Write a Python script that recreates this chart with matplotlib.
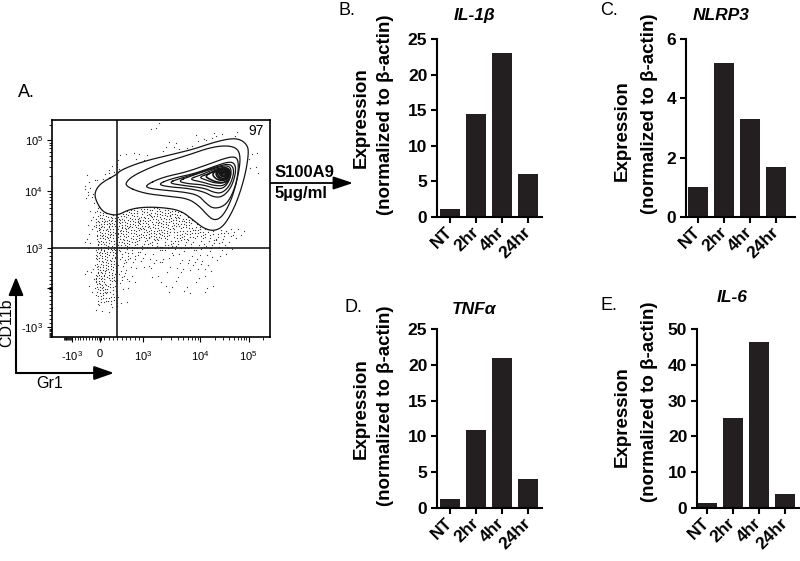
import numpy as np
import matplotlib.pyplot as plt
from matplotlib.patches import FancyArrowPatch
from matplotlib.path import Path

plt.rcParams["font.family"] = ["Liberation Sans", "DejaVu Sans"]
plt.rcParams["mathtext.fontset"] = "custom"
plt.rcParams["mathtext.rm"] = "Liberation Sans"
plt.rcParams["mathtext.it"] = "Liberation Sans:italic"
plt.rcParams["mathtext.bf"] = "Liberation Sans:bold"

# qPCR, expression normalized to beta-actin
timepoints = ["NT", "2hr", "4hr", "24hr"]
il1b = [1.1, 14.4, 23.1, 6.0]
nlrp3 = [1.0, 5.2, 3.3, 1.7]
tnfa = [1.2, 10.9, 20.9, 4.0]
il6 = [1.5, 25.2, 46.4, 4.0]

# flow panel, biexponential axes in display channels (0-1000)
gr1_tick_pos = [92, 221, 419, 681, 902]
gr1_tick_labels = ["-$10^3$", "0", "$10^3$", "$10^4$", "$10^5$"]
cd11b_tick_pos = [46, 225, 409, 672, 906]
cd11b_tick_labels = ["-$10^3$", "", "$10^3$", "$10^4$", "$10^5$"]
gr1_gate = 299
cd11b_gate = 409
gate_percent = "97"

# contour levels, outer -> inner, (Gr1, CD11b) channels
ring1 = [(299, 750), (221, 708), (193, 662), (207, 616), (235, 575), (281, 561), (313, 566),
         (345, 584), (405, 598), (497, 598), (589, 584), (649, 538), (695, 501), (741, 488),
         (782, 506), (819, 561), (856, 644), (888, 754), (902, 846), (897, 883), (865, 911),
         (819, 915), (741, 897), (649, 865), (529, 837), (405, 805), (313, 768)]
ring2 = [(336, 695), (419, 662), (529, 649), (621, 639), (672, 607), (713, 561), (741, 538),
         (773, 547), (805, 593), (833, 662), (856, 754), (865, 828), (851, 869), (805, 883),
         (727, 874), (621, 837), (497, 800), (391, 754), (345, 722)]
ring3 = [(428, 699), (506, 736), (612, 759), (704, 791), (796, 825), (840, 832), (856, 810),
         (852, 736), (830, 662), (795, 605), (741, 590), (704, 618), (672, 653), (612, 667),
         (520, 676), (442, 685)]
ring4 = [(483, 704), (552, 731), (658, 754), (750, 788), (810, 808), (840, 800), (843, 754),
         (822, 688), (782, 645), (740, 645), (700, 668), (626, 685), (534, 692)]
ring5 = [(529, 710), (589, 731), (681, 759), (764, 788), (812, 798), (832, 782), (833, 745),
         (812, 692), (777, 662), (740, 667), (700, 686), (612, 697)]
ring6 = [(575, 718), (635, 741), (713, 768), (782, 788), (815, 788), (824, 760), (810, 712),
         (782, 682), (740, 687), (690, 702), (626, 706)]
ring7 = [(626, 727), (681, 746), (741, 772), (795, 784), (817, 772), (816, 730), (790, 696),
         (742, 698), (690, 714)]
ring8 = [(672, 736), (727, 756), (782, 778), (808, 770), (810, 735), (788, 708), (745, 710),
         (705, 724)]
core0 = [(700, 742), (745, 766), (790, 780), (816, 770), (820, 738), (800, 712), (760, 712),
         (725, 726)]
core1 = [(735, 752), (760, 772), (790, 778), (812, 765), (815, 740), (795, 722), (765, 722),
         (745, 735)]
core2 = [(748, 752), (766, 770), (791, 775), (809, 763), (811, 741), (794, 726), (768, 727)]
core3 = [(756, 752), (772, 768), (792, 772), (806, 760), (808, 742), (792, 730), (772, 733)]
core4 = [(765, 752), (780, 764), (797, 767), (804, 750), (796, 737), (777, 740)]
core5 = [(772, 752), (785, 762), (798, 759), (801, 747), (790, 740), (779, 743)]
core6 = [(778, 752), (788, 758), (796, 753), (793, 746), (784, 746)]
contour_rings = [ring1, ring2, ring3, ring4, ring5, ring6, ring7, ring8,
                 core0, core1, core2, core3, core4, core5, core6]

# outlier events outside the outer contour: density level per 50x50 channel cell
# rows: CD11b high -> low, columns: Gr1 low -> high
event_density = [
    "00000000010000000000",
    "00000000000001111000",
    "00000000001110000100",
    "00000011100000000010",
    "00000210000000000010",
    "00011000000000000000",
    "00021000000000000000",
    "00011000000000000000",
    "00015455555530000000",
    "00016666665554100000",
    "00016665555444332100",
    "00016554333332221000",
    "00006532111111110000",
    "00016521111111100000",
    "00017521010101000000",
    "00016410001010100000",
    "00004310000000000000",
    "00001100000000000000",
    "00000000000000000000",
    "00000000000000000000",
]

W, H = 800, 561
fig = plt.figure(figsize=(W / 100, H / 100), dpi=100)


def rect(left, top, right, bottom):
    return [left / W, 1 - bottom / H, (right - left) / W, (bottom - top) / H]


def smooth_closed(pts, n=3):
    p = np.asarray(pts, float)
    for _ in range(n):
        q = np.roll(p, -1, axis=0)
        p = np.stack([0.75 * p + 0.25 * q, 0.25 * p + 0.75 * q], axis=1).reshape(-1, 2)
    return np.vstack([p, p[:1]])


def biex(values, anchors_t, anchors_pos):
    v = np.asarray(values, float)
    t = np.where(np.abs(v) < 1000, v / 1000 * 3, np.sign(v) * np.log10(np.abs(v) + 1e-9))
    return np.interp(t, anchors_t, anchors_pos)


# overlay in pixel units for labels and arrows
ov = fig.add_axes([0, 0, 1, 1])
ov.set_xlim(0, W)
ov.set_ylim(H, 0)
ov.axis("off")

# ---------------- panel A: flow plot ----------------
ax = fig.add_axes(rect(52, 120, 270, 337))
ax.set_xlim(0, 1000)
ax.set_ylim(0, 1000)

outer = smooth_closed(ring1)
xs, ys = [], []
nrows = len(event_density)
for i, row in enumerate(event_density):
    r = nrows - 1 - i
    for c, lvl in enumerate(row):
        n = int(lvl) * 3
        k = np.arange(n) + 1 + (c * 37 + r * 101) % 97
        xs.extend((c + (k * 0.7548776662 + 0.13 * r) % 1) * 50)
        ys.extend((r + (k * 0.5698402910 + 0.29 * c) % 1) * 50)
pts = np.column_stack([xs, ys])
keep = ~Path(outer).contains_points(pts)
ax.scatter(pts[keep, 0], pts[keep, 1], s=0.8, color="#333333", lw=0, marker="o")

for j, ring in enumerate(contour_rings):
    p = smooth_closed(ring)
    ax.plot(p[:, 0], p[:, 1], color="#151515", lw=0.9 if j < 8 else 1.2)

ax.axvline(gr1_gate, color="#1a1a1a", lw=1.2)
ax.axhline(cd11b_gate, color="#1a1a1a", lw=1.2)
ax.text(934, 948, gate_percent, fontsize=10, ha="center", va="center")

xt_anchor = [-4, -3, 0, 3, 4, 5, 6]
ax.set_xticks(gr1_tick_pos)
ax.set_xticklabels(gr1_tick_labels)
ax.set_yticks(cd11b_tick_pos)
ax.set_yticklabels(cd11b_tick_labels)
minor_vals = [v for v in range(-2000, 1000, 100) if v % 1000] + \
             [k * 10 ** d for d in (3, 4, 5) for k in range(2, 10)] + [-30, -15, 15, 30]
xm = biex(minor_vals, xt_anchor, [-37, 92, 221, 419, 681, 902, 1123])
ym = biex(minor_vals, xt_anchor, [-133, 46, 225, 409, 672, 906, 1140])
ax.set_xticks(xm[(xm > 0) & (xm < 1000)], minor=True)
ax.set_yticks(ym[(ym > 0) & (ym < 1000)], minor=True)
ax.tick_params(which="major", length=3.5, width=0.8, labelsize=8, pad=3)
ax.tick_params(axis="x", which="major", pad=5)
ax.tick_params(which="minor", length=2, width=0.6)
for s in ax.spines.values():
    s.set_linewidth(1.2)

ov.text(26, 92, "A.", fontsize=13, ha="center", va="center")
ov.text(7, 323, "CD11b", fontsize=11.5, rotation=90, ha="center", va="center")
ov.text(50, 383, "Gr1", fontsize=11.5, ha="center", va="center")
ov.add_patch(FancyArrowPatch((16, 373), (16, 277), arrowstyle="-|>,head_length=1.1,head_width=0.45",
                             mutation_scale=10, lw=1.5, color="black", shrinkA=0, shrinkB=0))
ov.add_patch(FancyArrowPatch((16, 373), (114, 373), arrowstyle="-|>,head_length=1.2,head_width=0.42",
                             mutation_scale=10, lw=1.5, color="black", shrinkA=0, shrinkB=0))
ov.add_patch(FancyArrowPatch((258, 183), (353, 183), arrowstyle="-|>,head_length=1.2,head_width=0.4",
                             mutation_scale=10, lw=1.3, color="black", shrinkA=0, shrinkB=0))
ov.text(275, 172, "S100A9", fontsize=12, fontweight="bold", ha="left", va="center")
ov.text(275, 193, "5µg/ml", fontsize=12, fontweight="bold", ha="left", va="center")


# ---------------- panels B-E: bars ----------------
def bar_panel(box, values, ymax, step, xlim):
    a = fig.add_axes(box)
    x = np.arange(len(timepoints))
    a.bar(x, values, width=0.78, color="#231f20")
    a.set_xlim(*xlim)
    a.set_ylim(0, ymax)
    a.set_yticks(np.arange(0, ymax + step / 2, step))
    a.set_xticks(x)
    a.set_xticklabels(timepoints, rotation=45, ha="right", va="center", rotation_mode="anchor")
    for s in ("top", "right"):
        a.spines[s].set_visible(False)
    for s in ("left", "bottom"):
        a.spines[s].set_linewidth(1.5)
    a.tick_params(width=1.5, length=4, labelsize=12.5, pad=3)
    a.tick_params(axis="x", pad=5)
    for lab in a.get_xticklabels() + a.get_yticklabels():
        lab.set_fontweight("bold")
    a.patch.set_visible(False)
    return a


bar_panel(rect(437, 39, 542, 217), il1b, 25, 5, (-0.5, 3.54))
bar_panel(rect(686, 39, 795, 217), nlrp3, 6, 2, (-0.46, 3.73))
bar_panel(rect(437, 329, 542, 508), tnfa, 25, 5, (-0.5, 3.54))
bar_panel(rect(697, 329, 800, 508), il6, 50, 10, (-0.38, 3.58))

titles = [("B.", 339, 10, "IL-1β", 475, 15, 361, 118, 386, 115),
          ("C.", 600, 10, "NLRP3", 721, 15, 622, 131, 650, 114),
          ("D.", 345, 307, "TNFα", 474, 309, 361, 409, 386, 406),
          ("E.", 600, 305, "IL-6", 732, 297, 622, 417, 650, 402)]
for letter, lx, ly, name, tx, ty, ex, ey, nx, ny in titles:
    ov.text(lx, ly, letter, fontsize=13, ha="left", va="center")
    ov.text(tx, ty, name, fontsize=12.5, fontweight="bold", fontstyle="italic",
            ha="center", va="center")
    ov.text(ex, ey, "Expression", fontsize=13.5, fontweight="bold", rotation=90,
            ha="center", va="center")
    ov.text(nx, ny, "(normalized to β-actin)", fontsize=13.5, fontweight="bold", rotation=90,
            ha="center", va="center")

fig.savefig("out.png", dpi=100)
